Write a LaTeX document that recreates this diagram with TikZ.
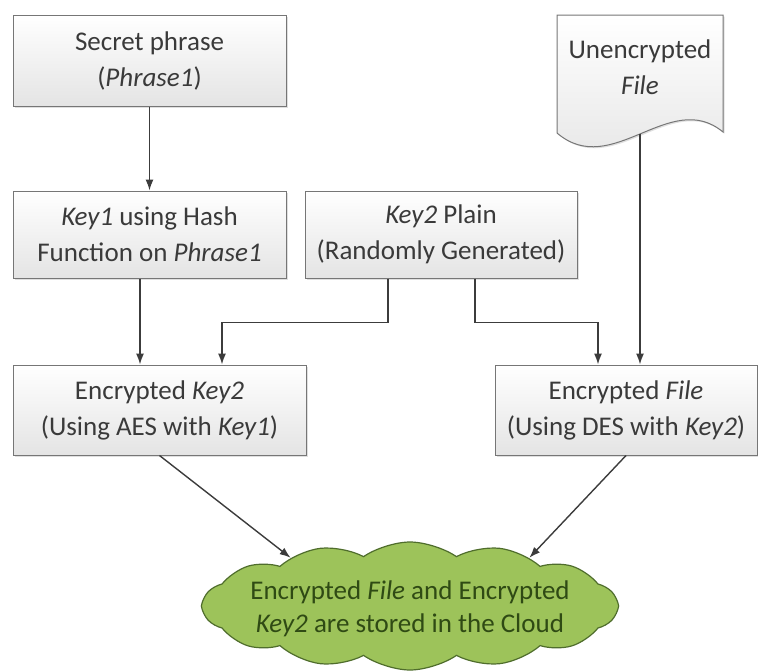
\documentclass[tikz,border=0pt]{standalone}
\usepackage{fontspec}
\setmainfont{Carlito}
\usepackage{tikz}
\usetikzlibrary{shapes.symbols,shadows,arrows.meta}

\definecolor{txtgray}{HTML}{3A3A3A}
\definecolor{boxline}{HTML}{767676}
\definecolor{boxbot}{HTML}{E4E4E4}
\definecolor{linegray}{HTML}{3C3C3C}
\definecolor{cloudfill}{HTML}{9DC35A}
\definecolor{cloudline}{HTML}{4F6D2C}
\definecolor{cloudtext}{HTML}{2F4A14}

\begin{document}
\begin{tikzpicture}[x=1pt,y=-1pt,
		box/.style={draw=boxline,line width=1pt,top color=white,bottom color=boxbot,
			drop shadow={shadow xshift=1.5pt,shadow yshift=-1.5pt,opacity=0.25},
			align=center,text=txtgray,font=\fontsize{27}{36}\selectfont,inner sep=0pt},
		link/.style={->,>={Latex[length=11pt,width=8pt]},draw=linegray,line width=1.4pt}]
		\useasboundingbox (0,0) rectangle (758,672);
		% boxes
		\node[box,minimum width=273,minimum height=91] (secret) at (149.5,60.5) {Secret phrase\\(\textit{Phrase1})};
		\node[box,minimum width=273,minimum height=87] (key1) at (149.5,234.5) {\textit{Key1} using Hash\\Function on \textit{Phrase1}};
		\node[box,minimum width=272,minimum height=87] (key2) at (441,234.5) {\textit{Key2} Plain\\(Randomly Generated)};
		\node[box,minimum width=293,minimum height=90] (enckey2) at (159.5,410) {Encrypted \textit{Key2}\\(Using AES with \textit{Key1})};
		\node[box,minimum width=262,minimum height=90] (encfile) at (626,410) {Encrypted \textit{File}\\(Using DES with \textit{Key2})};
		% document shape
		\path[draw=boxline,line width=1pt,top color=white,bottom color=boxbot,
			drop shadow={shadow xshift=1.5pt,shadow yshift=-1.5pt,opacity=0.25}]
			(557,15) -- (723,15) -- (723,132) .. controls (670,88) and (612,180) .. (557,133) -- cycle;
		\node[align=center,text=txtgray,font=\fontsize{27}{36}\selectfont,inner sep=0pt] (file) at (640,67) {Unencrypted\\\textit{File}};
		\coordinate (fileout) at (640,134);
		% cloud
		\node[cloud,draw=cloudline,fill=cloudfill,line width=1.2pt,cloud puffs=14,cloud puff arc=70,
			cloud ignores aspect,minimum width=414,minimum height=128,inner sep=0pt] (cloud) at (410,606) {};
		\node[align=center,text=cloudtext,font=\fontsize{27}{33}\selectfont,inner sep=0pt] (cloudtxt) at (410,609)
			{Encrypted \textit{File} and Encrypted\\\textit{Key2} are stored in the Cloud};
		% connectors
		\draw[link] (secret.south) -- (key1.north);
		\draw[link] ([xshift=-9.5pt]key1.south) -- ([xshift=-19.5pt]enckey2.north);
		\draw[link] ([xshift=-53pt]key2.south) -- ++(0,44) -| ([xshift=62.5pt]enckey2.north);
		\draw[link] ([xshift=34pt]key2.south) -- ++(0,44) -| ([xshift=-28pt]encfile.north);
		\draw[link] (fileout) -- (fileout |- encfile.north);
		\draw[link] (enckey2.south) -- (cloud.158);
		\draw[link] (encfile.south) -- (cloud.22);
	\end{tikzpicture}
\end{document}
